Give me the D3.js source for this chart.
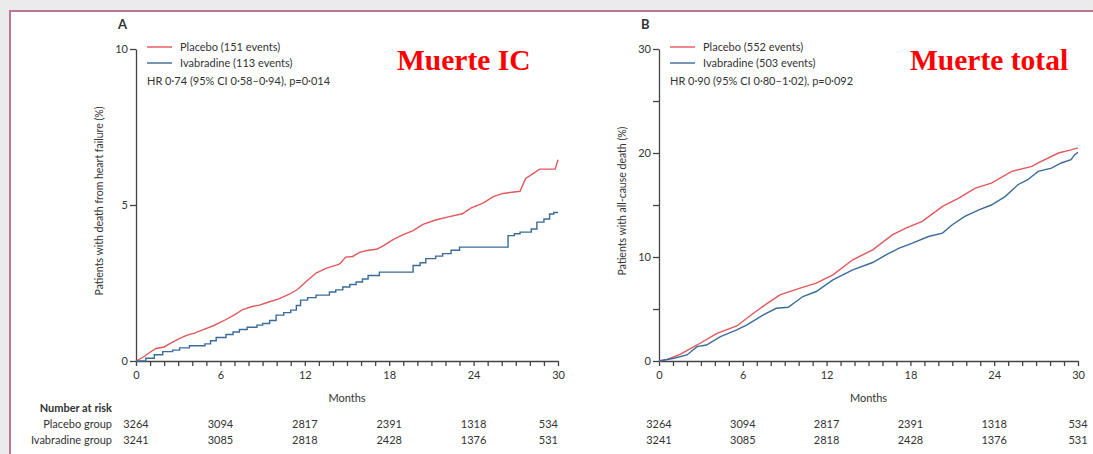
<!DOCTYPE html>
<html>
<head>
<meta charset="utf-8">
<script src="https://cdn.jsdelivr.net/npm/d3@7/dist/d3.min.js"></script>
<style>
  html, body { margin: 0; padding: 0; background: #ebebeb; }
  svg { display: block; }
  text { font-family: Lato, "Noto Sans", sans-serif; fill: #333; }
</style>
</head>
<body>
<script>
// Cumulative incidence (%) by month — panel A: death from heart failure
const hfPlacebo = [
  [0,0],[0.5,0.12],[1.0,0.28],[1.42,0.40],[2.0,0.45],[2.5,0.58],[3.08,0.72],[3.6,0.82],
  [4.2,0.90],[4.74,1.0],[5.5,1.13],[6.4,1.33],[7.0,1.48],[7.59,1.65],[8.2,1.74],[8.77,1.79],
  [9.5,1.90],[10.2,2.0],[10.9,2.14],[11.5,2.30],[12.1,2.55],[12.8,2.82],[13.5,2.97],[14.3,3.08],
  [14.5,3.12],[14.9,3.33],[15.4,3.35],[15.9,3.48],[16.5,3.55],[17.1,3.58],[17.6,3.70],[18.3,3.90],
  [19.0,4.05],[19.7,4.18],[20.4,4.38],[21.3,4.52],[22.2,4.62],[23.2,4.72],[23.8,4.90],[24.7,5.07],
  [25.4,5.27],[26.1,5.37],[27.3,5.44],[27.7,5.85],[28.2,6.0],[28.7,6.15],[29.8,6.15],[30.0,6.45]
];
const hfIvabradine = [
  [0,0],[0.7,0.09],[1.3,0.20],[1.9,0.30],[2.6,0.35],[3.1,0.42],[3.8,0.49],[4.9,0.55],[5.3,0.65],
  [5.7,0.755],[6.4,0.85],[6.9,0.93],[7.35,1.01],[7.9,1.08],[8.6,1.15],[9.0,1.20],[9.5,1.30],
  [9.96,1.47],[10.5,1.55],[11.0,1.63],[11.4,1.78],[11.7,1.95],[12.2,2.03],[12.8,2.11],[13.75,2.21],
  [14.2,2.28],[14.7,2.37],[15.2,2.45],[15.65,2.53],[16.1,2.63],[16.5,2.74],[17.3,2.85],[19.7,3.06],
  [20.2,3.15],[20.6,3.28],[21.3,3.36],[21.8,3.44],[22.4,3.55],[23.0,3.65],[26.45,4.02],[26.9,4.08],
  [27.3,4.13],[28.1,4.23],[28.5,4.45],[29.0,4.55],[29.4,4.71],[29.7,4.76],[30.0,4.76]
];

// Panel B: all-cause death
const allPlacebo = [
  [0,0],[0.6,0.16],[1.54,0.67],[2.73,1.54],[4.15,2.66],[5.57,3.37],[6.76,4.59],[7.7,5.49],
  [8.66,6.36],[10.1,7.0],[11.26,7.48],[12.45,8.28],[13.87,9.73],[15.3,10.69],[16.7,12.13],
  [17.67,12.78],[18.85,13.42],[20.3,14.86],[21.46,15.67],[22.65,16.63],[23.8,17.11],[25.26,18.23],
  [26.7,18.72],[27.15,19.04],[28.6,20.0],[29.5,20.3],[30.0,20.5]
];
const allIvabradine = [
  [0,0],[1.07,0.26],[2.0,0.58],[2.73,1.38],[3.4,1.54],[4.4,2.34],[5.57,2.99],[6.3,3.47],
  [7.47,4.43],[8.4,5.07],[9.25,5.17],[10.3,6.2],[11.26,6.68],[12.45,7.8],[13.87,8.76],[15.3,9.47],
  [16.25,10.2],[17.2,10.85],[18.14,11.33],[19.3,11.97],[20.3,12.3],[21.0,13.1],[21.9,13.9],
  [22.9,14.54],[23.8,15.0],[24.8,15.83],[25.7,16.95],[26.4,17.43],[27.15,18.23],[28.1,18.55],
  [28.8,19.04],[29.5,19.36],[29.76,19.84],[30.0,20.06]
];

// Number at risk
const riskMonths = [0, 6, 12, 18, 24, 30];
const riskPlacebo = [3264, 3094, 2817, 2391, 1318, 534];
const riskIvabradine = [3241, 3085, 2818, 2428, 1376, 531];

const monthTicks = d3.range(0, 31);
const hfTicks = [0, 5, 10];
const allTicks = [0, 10, 20, 30];
const allMinorTicks = [5, 15, 25];

const RED = "#e4575c", BLUE = "#3a6b99", AXIS = "#444";

const W = 1093, H = 454;
const svg = d3.select("body").append("svg").attr("width", W).attr("height", H);

// page card with its border
svg.append("rect").attr("x", 0).attr("y", 0).attr("width", W).attr("height", H).attr("fill", "#ebebeb");
svg.append("rect").attr("x", 10).attr("y", 11).attr("width", W).attr("height", H)
  .attr("fill", "#fff").attr("stroke", "#bd7596").attr("stroke-width", 2);

const fmt = v => String(v);

function panel(opts) {
  const x = d3.scaleLinear().domain([0, 30]).range(opts.xr);
  const y = d3.scaleLinear().domain([0, opts.ymax]).range([361, 49]);
  const g = svg.append("g");

  // x axis
  const xa = g.append("g").attr("transform", `translate(0,${y(0)})`)
    .call(d3.axisBottom(x).tickValues(monthTicks).tickSize(5).tickSizeOuter(0)
      .tickFormat(d => d % 6 === 0 ? d : ""));
  xa.selectAll("text").attr("font-size", 11).attr("dy", "0.95em").attr("fill", "#333");

  // y axis
  const ya = g.append("g").attr("transform", `translate(${x(0)},0)`)
    .call(d3.axisLeft(y).tickValues(opts.yticks).tickSize(6).tickSizeOuter(0).tickFormat(fmt));
  ya.selectAll("text").attr("font-size", 11).attr("fill", "#333").attr("x", -8);
  if (opts.yminor) {
    g.append("g").attr("transform", `translate(${x(0)},0)`)
      .call(d3.axisLeft(y).tickValues(opts.yminor).tickSize(6).tickFormat(""))
      .select(".domain").remove();
  }
  g.selectAll(".domain, .tick line").attr("stroke", AXIS).attr("stroke-width", 1.3);

  // curves
  g.append("path").datum(opts.placebo)
    .attr("fill", "none").attr("stroke", RED).attr("stroke-width", 1.4)
    .attr("d", d3.line().x(d => x(d[0])).y(d => y(d[1])).curve(opts.curveP));
  g.append("path").datum(opts.ivabradine)
    .attr("fill", "none").attr("stroke", BLUE).attr("stroke-width", 1.4)
    .attr("d", d3.line().x(d => x(d[0])).y(d => y(d[1])).curve(opts.curveI));

  // panel letter
  g.append("text").attr("x", x(0) - 18).attr("y", 29).attr("font-size", 13)
    .attr("font-weight", "bold").text(opts.letter);

  // legend
  const lx = x(0) + 11;
  [[RED, opts.legP, 47], [BLUE, opts.legI, 63]].forEach(([c, t, ly]) => {
    g.append("line").attr("x1", lx).attr("x2", lx + 25).attr("y1", ly).attr("y2", ly)
      .attr("stroke", c).attr("stroke-width", 1.4);
    g.append("text").attr("x", lx + 33).attr("y", ly + 4).attr("font-size", 11).text(t);
  });
  g.append("text").attr("x", lx).attr("y", 85).attr("font-size", 11).text(opts.hr);

  // red headline
  g.append("text").attr("x", opts.titleX).attr("y", 70)
    .style("font-family", "'Liberation Serif', 'DejaVu Serif', serif")
    .style("font-weight", "bold").style("font-size", "29.5px").style("fill", "#ff0000")
    .text(opts.title);

  // axis titles
  g.append("text").attr("transform", `translate(${x(0) - 33},${y(opts.ymax / 2) - 4}) rotate(-90)`)
    .attr("text-anchor", "middle").attr("font-size", 10.5).text(opts.ylabel);
  g.append("text").attr("x", x(15)).attr("y", 402).attr("text-anchor", "middle")
    .attr("font-size", 11).text("Months");

  // number at risk rows
  [[riskPlacebo, 428], [riskIvabradine, 444]].forEach(([arr, by]) => {
    g.selectAll(null).data(riskMonths).enter().append("text")
      .attr("x", d => x(d)).attr("y", by).attr("font-size", 11)
      .attr("text-anchor", (d, i) => (opts.lastEnd && i === riskMonths.length - 1) ? "end" : "middle")
      .text((d, i) => arr[i]);
  });
}

panel({
  xr: [136, 558], ymax: 10, yticks: hfTicks, letter: "A",
  placebo: hfPlacebo, ivabradine: hfIvabradine,
  curveP: d3.curveLinear, curveI: d3.curveStepAfter,
  legP: "Placebo (151 events)", legI: "Ivabradine (113 events)",
  hr: "HR 0·74 (95% CI 0·58–0·94), p=0·014",
  title: "Muerte IC", titleX: 397,
  ylabel: "Patients with death from heart failure (%)", lastEnd: true
});
panel({
  xr: [659, 1078], ymax: 30, yticks: allTicks, yminor: allMinorTicks, letter: "B",
  placebo: allPlacebo, ivabradine: allIvabradine,
  curveP: d3.curveLinear, curveI: d3.curveLinear,
  legP: "Placebo (552 events)", legI: "Ivabradine (503 events)",
  hr: "HR 0·90 (95% CI 0·80–1·02), p=0·092",
  title: "Muerte total", titleX: 910,
  ylabel: "Patients with all-cause death (%)", lastEnd: false
});

// row headers for the number-at-risk table
svg.append("text").attr("x", 112).attr("y", 412).attr("text-anchor", "end")
  .attr("font-size", 11).attr("font-weight", "bold").text("Number at risk");
svg.append("text").attr("x", 112).attr("y", 428).attr("text-anchor", "end")
  .attr("font-size", 11).text("Placebo group");
svg.append("text").attr("x", 112).attr("y", 444).attr("text-anchor", "end")
  .attr("font-size", 11).text("Ivabradine group");
</script>
</body>
</html>
